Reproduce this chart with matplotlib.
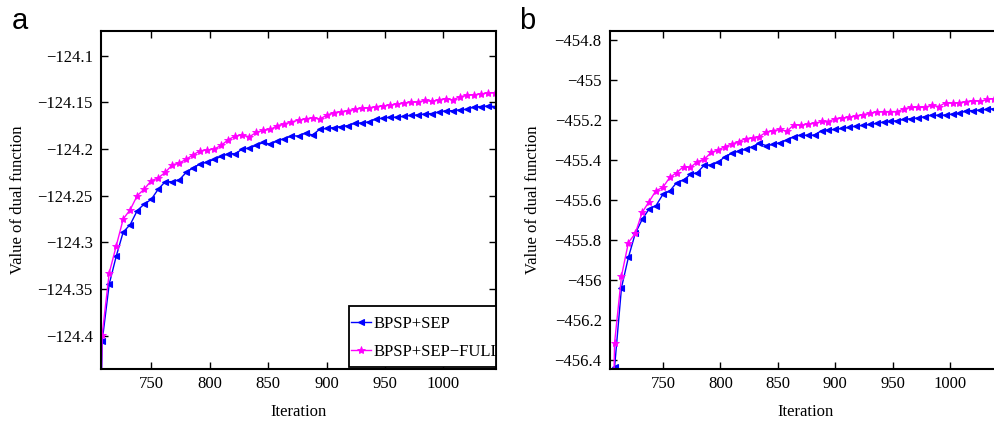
import matplotlib
matplotlib.use('Agg')
import matplotlib.pyplot as plt
from matplotlib.patches import Rectangle

plt.rcParams['font.family'] = ['Liberation Serif', 'DejaVu Serif']

iterations = list(range(702, 1045, 6))

a_sep = [-124.80, -124.406, -124.345, -124.315, -124.289, -124.281, -124.266, -124.259,
         -124.254, -124.243, -124.235, -124.235, -124.233, -124.225, -124.220, -124.216,
         -124.214, -124.211, -124.208, -124.205, -124.205, -124.200, -124.199, -124.196,
         -124.193, -124.195, -124.191, -124.189, -124.186, -124.186, -124.183, -124.185,
         -124.179, -124.178, -124.177, -124.176, -124.175, -124.1725, -124.172, -124.171,
         -124.168, -124.167, -124.166, -124.166, -124.165, -124.164, -124.1635, -124.1625,
         -124.162, -124.1605, -124.159, -124.159, -124.158, -124.1575, -124.155, -124.1545,
         -124.154, -124.1545]

a_full = [-124.80, -124.399, -124.333, -124.304, -124.275, -124.265, -124.250, -124.243,
          -124.234, -124.231, -124.225, -124.217, -124.215, -124.211, -124.206, -124.202,
          -124.201, -124.200, -124.196, -124.190, -124.186, -124.185, -124.187, -124.182,
          -124.180, -124.179, -124.175, -124.173, -124.171, -124.169, -124.168, -124.1665,
          -124.168, -124.164, -124.161, -124.160, -124.159, -124.1575, -124.1565, -124.156,
          -124.1547, -124.154, -124.153, -124.152, -124.151, -124.150, -124.1497, -124.148,
          -124.149, -124.1475, -124.146, -124.1475, -124.144, -124.1425, -124.142, -124.141,
          -124.140, -124.1397]

b_sep = [-457.0, -456.435, -456.038, -455.887, -455.767, -455.697, -455.645, -455.628,
         -455.572, -455.555, -455.513, -455.500, -455.472, -455.463, -455.425, -455.425,
         -455.412, -455.383, -455.367, -455.355, -455.347, -455.333, -455.317, -455.328,
         -455.322, -455.313, -455.300, -455.283, -455.275, -455.277, -455.275, -455.253,
         -455.250, -455.247, -455.242, -455.237, -455.230, -455.227, -455.222, -455.217,
         -455.210, -455.207, -455.203, -455.197, -455.193, -455.190, -455.183, -455.175,
         -455.177, -455.175, -455.170, -455.167, -455.153, -455.153, -455.150, -455.147,
         -455.143, -455.142]

b_full = [-458.0, -456.313, -455.980, -455.813, -455.767, -455.662, -455.608, -455.553,
          -455.537, -455.487, -455.463, -455.433, -455.437, -455.408, -455.397, -455.362,
          -455.350, -455.333, -455.320, -455.308, -455.293, -455.290, -455.283, -455.260,
          -455.253, -455.247, -455.257, -455.223, -455.227, -455.220, -455.217, -455.207,
          -455.208, -455.193, -455.190, -455.187, -455.180, -455.173, -455.167, -455.160,
          -455.158, -455.158, -455.158, -455.143, -455.137, -455.137, -455.137, -455.125,
          -455.133, -455.113, -455.117, -455.113, -455.108, -455.103, -455.107, -455.097,
          -455.093, -455.087]

series_labels = ['BPSP+SEP', 'BPSP+SEP\u2212FULL']
x_ticks = [750, 800, 850, 900, 950, 1000]
a_yticks = [-124.4, -124.35, -124.3, -124.25, -124.2, -124.15, -124.1]
a_yticklabels = ['\u2212124.4', '\u2212124.35', '\u2212124.3', '\u2212124.25', '\u2212124.2',
                 '\u2212124.15', '\u2212124.1']
b_yticks = [-456.4, -456.2, -456.0, -455.8, -455.6, -455.4, -455.2, -455.0, -454.8]
b_yticklabels = ['\u2212456.4', '\u2212456.2', '\u2212456', '\u2212455.8', '\u2212455.6',
                 '\u2212455.4', '\u2212455.2', '\u2212455', '\u2212454.8']

W, H = 995, 422
fig = plt.figure(figsize=(W / 100, H / 100), dpi=100)

AX_L, AX_B, AX_W, AX_H = 101, 369, 395, 338
ax1 = fig.add_axes([AX_L / W, 1 - AX_B / H, AX_W / W, AX_H / H])
ax2 = fig.add_axes([610 / W, 1 - AX_B / H, 392 / W, AX_H / H])

FS = 12


def style(ax, sep, full, xlim, ylim, yticks, yticklabels):
    ax.plot(iterations, sep, color='#0000ff', lw=1.0, marker='<', ms=4.5,
            markeredgewidth=0.8, label=series_labels[0])
    ax.plot(iterations, full, color='#ff00ff', lw=1.0, marker='*', ms=6,
            markeredgewidth=0.6, label=series_labels[1])
    ax.set_xlim(*xlim)
    ax.set_ylim(*ylim)
    ax.set_xticks(x_ticks)
    ax.set_xticklabels([str(t) for t in x_ticks], fontsize=FS)
    ax.set_yticks(yticks)
    ax.set_yticklabels(yticklabels, fontsize=FS)
    ax.tick_params(direction='in', length=5, width=1.0, top=True, right=True)
    ax.tick_params(axis='x', pad=5)
    ax.tick_params(axis='y', pad=6)
    for s in ax.spines.values():
        s.set_linewidth(1.5)
    ax.set_xlabel('Iteration', fontsize=FS)
    ax.set_ylabel('Value of dual function', fontsize=FS)


style(ax1, a_sep, a_full, (707, 1045), (-124.4357, -124.0736), a_yticks, a_yticklabels)
style(ax2, b_sep, b_full, (704, 1045), (-456.445, -454.755), b_yticks, b_yticklabels)

ax1.xaxis.set_label_coords(0.5, -0.103)
ax2.xaxis.set_label_coords(0.5, -0.103)
ax1.yaxis.set_label_coords(-0.19, 0.5)
ax2.yaxis.set_label_coords(-0.175, 0.5)

# legend frame (drawn separately so the long label is cut by the frame like the original)
fx0 = (349 - AX_L) / AX_W
fy0 = (AX_B - 367) / AX_H
fw = (496 - 349) / AX_W
fh = (367 - 306) / AX_H
frame = Rectangle((fx0, fy0), fw, fh, transform=ax1.transAxes, facecolor='white',
                  edgecolor='black', linewidth=1.3, zorder=4, clip_on=False)
ax1.add_patch(frame)
leg = ax1.legend(loc='upper left', bbox_to_anchor=(fx0, (AX_B - 313) / AX_H),
                 borderaxespad=0, fontsize=FS, frameon=False,
                 handlelength=1.2, handletextpad=0.1, labelspacing=0.72, borderpad=0.15)
leg.set_zorder(5)
for t in leg.get_texts():
    t.set_clip_path(frame)

fig.text(12 / W, 1 - 29 / H, 'a', fontsize=21, family=['Liberation Sans', 'DejaVu Sans'],
         va='baseline', ha='left')
fig.text(519 / W, 1 - 29 / H, 'b', fontsize=21, family=['Liberation Sans', 'DejaVu Sans'],
         va='baseline', ha='left')

fig.savefig('out.png', dpi=100)
